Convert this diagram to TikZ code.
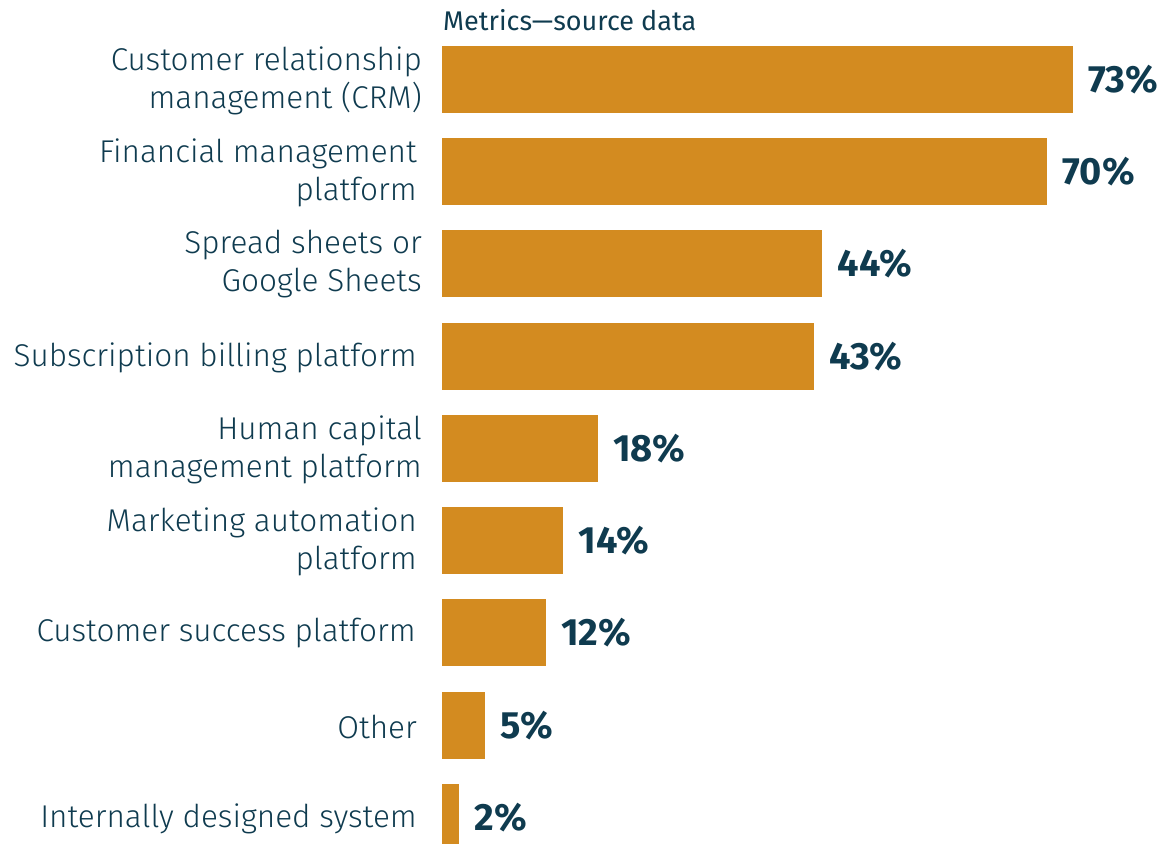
\documentclass[tikz,border=0pt]{standalone}
\usepackage{fontspec}
\setmainfont{Fira Sans}
\newfontfamily\lightfont{Fira Sans Light}
\definecolor{barcol}{HTML}{D38B20}
\definecolor{ink}{HTML}{0F3B4F}
\begin{document}
\begin{tikzpicture}[x=1pt,y=-1pt,
  lab/.style={anchor=east,align=right,text=ink,inner sep=0pt,font=\lightfont\fontsize{31.5}{38}\selectfont},
  pct/.style={anchor=west,text=ink,inner sep=0pt,font=\bfseries\fontsize{38}{42}\selectfont},
  barbox/.style={fill=barcol,draw=none,inner sep=0pt,anchor=north west,minimum height=67pt}]
\useasboundingbox (0,0) rectangle (1164,843);
\clip (0,0) rectangle (1164,843);
\node[anchor=base west,text=ink,inner sep=0pt,font=\fontsize{27}{30}\selectfont] (title) at (443,31) {Metrics—source data};
\foreach \n/\t/\v/\lx/\txt in {
  1/46/73/422/{Customer relationship\\management (CRM)},
  2/138/70/417/{Financial management\\platform},
  3/230/44/422/{Spread sheets or\\Google Sheets},
  4/323/43/417/{Subscription billing platform},
  5/415/18/422/{Human capital\\management platform},
  6/507/14/417/{Marketing automation\\platform},
  7/599/12/416/{Customer success platform},
  8/692/5/417/{Other},
  9/784/2/417/{Internally designed system}}{
  \node[barbox,minimum width={8.64pt*\v}] (b\n) at (442,\t) {};
  \node[pct] (p\n) at ([xshift=15pt]b\n.east) {\v\%};
  \node[lab] (l\n) at (\lx,\t+34.5) {\txt};
}
\end{tikzpicture}
\end{document}
